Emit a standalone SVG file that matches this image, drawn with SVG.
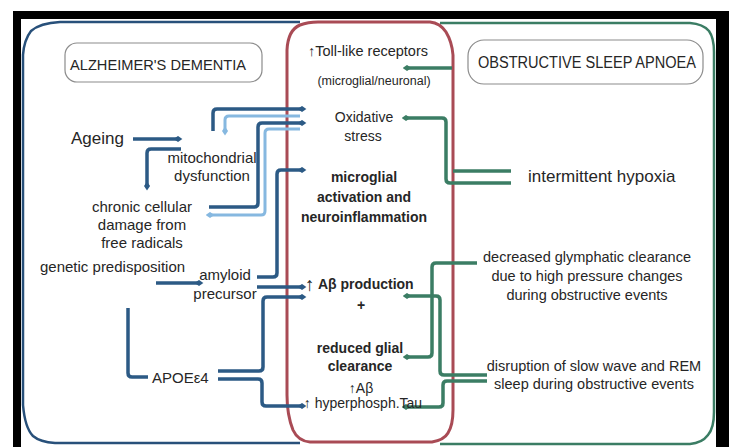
<svg xmlns="http://www.w3.org/2000/svg" width="732" height="447" viewBox="0 0 732 447">
<style>
.t{font-family:"Liberation Sans",Arial,sans-serif;fill:#262626}
.b{font-weight:bold}
.c{text-anchor:middle}
.box{fill:#fff;stroke:#8c8c8c;stroke-width:1.2}
.dk{fill:none;stroke:#2c5a85;stroke-width:3.5}
.lt{fill:none;stroke:#86b8e0;stroke-width:3}
.gr{fill:none;stroke:#3b7d64;stroke-width:3.5}
.pb{fill:none;stroke:#28507a;stroke-width:2.5}
.pg{fill:none;stroke:#3b7d64;stroke-width:2.5}
.pr{fill:none;stroke:#a94b55;stroke-width:3}
</style>
<defs>
<marker id="mDk" viewBox="0 0 10 8" refX="5" refY="4" markerWidth="9" markerHeight="7" markerUnits="userSpaceOnUse" orient="auto"><path d="M0,4 L5,0.5 L10,4 L5,7.5 Z" fill="#2c5a85"/></marker>
<marker id="mLt" viewBox="0 0 10 8" refX="5" refY="4" markerWidth="9" markerHeight="7" markerUnits="userSpaceOnUse" orient="auto"><path d="M0,4 L5,0.5 L10,4 L5,7.5 Z" fill="#86b8e0"/></marker>
<marker id="mGr" viewBox="0 0 10 8" refX="5" refY="4" markerWidth="9" markerHeight="7" markerUnits="userSpaceOnUse" orient="auto"><path d="M0,4 L5,0.5 L10,4 L5,7.5 Z" fill="#3b7d64"/></marker>
</defs>
<rect x="0" y="0" width="732" height="447" fill="#fff"/>
<rect x="13" y="11" width="716" height="440" fill="#000"/>
<rect x="21" y="19" width="695" height="430" fill="#fff"/>

<g id="panels">
<path id="panel-ad" class="pb" d="M300 22 H60 Q40 23 31 31 Q24 40 23 55 V405 Q25 428 33 436 Q40 442 55 443 H300"/>
<path id="panel-osa" class="pg" d="M440 23 H690 Q703 24 709 31 Q714 38 714 52 V412 Q714 428 708 435 Q702 443 690 444 H440"/>
<path id="panel-mid" class="pr" d="M287 50 Q288 30 300 25 Q308 22 318 22 H430 Q440 23 446 32 Q452 42 453 55 V410 Q453 425 448 433 Q444 440 432 442 H310 Q298 441 293 430 Q287 415 287 395 Z"/>
</g>

<g id="connectors">
<path class="dk" d="M133 139 H178" marker-end="url(#mDk)"/>
<path class="dk" d="M181 149 H151 Q147 149 147 153 V186" marker-end="url(#mDk)"/>
<path class="dk" d="M213 131 V113 Q213 109 217 109 H302" marker-end="url(#mDk)"/>
<path class="lt" d="M300 116 H229 Q225 116 225 120 V131" marker-end="url(#mLt)"/>
<path class="dk" d="M209 207 H254 Q258 207 258 203 V127 Q258 123 262 123 H302" marker-end="url(#mDk)"/>
<path class="lt" d="M300 129 H269 Q265 129 265 133 V211 Q265 215 261 215 H210" marker-end="url(#mLt)"/>
<path class="dk" d="M257 277 H273 Q277 277 277 273 V174 Q277 170 281 170 H302" marker-end="url(#mDk)"/>
<path class="dk" d="M156 283 H199" marker-end="url(#mDk)"/>
<path class="dk" d="M257 287 H302" marker-end="url(#mDk)"/>
<path class="dk" d="M218 371 H259 Q263 371 263 367 V301 Q263 297 267 297 H302" marker-end="url(#mDk)"/>
<path class="dk" d="M218 379 H258 Q262 379 262 383 V402 Q262 406 266 406 H302" marker-end="url(#mDk)"/>
<path class="dk" d="M128 308 V373 Q128 377 132 377 H148"/>
<path class="gr" d="M452 68 H407" marker-end="url(#mGr)"/>
<path class="gr" d="M511 183 H450 Q446 183 446 179 V122 Q446 118 442 118 H406" marker-end="url(#mGr)"/>
<path class="gr" d="M511 171 H453"/>
<path class="gr" d="M477 263 H436 Q432 263 432 267 V353 Q432 357 428 357 H407" marker-end="url(#mGr)"/>
<path class="gr" d="M487 375 H444 Q440 375 440 371 V300 Q440 296 436 296 H407" marker-end="url(#mGr)"/>
<path class="gr" d="M487 381 H447 Q443 381 443 385 V403 Q443 407 439 407 H406" marker-end="url(#mGr)"/>
</g>

<g id="alzheimers-dementia">
<rect class="box" x="65" y="43" width="197" height="39" rx="12"/>
<text class="t" x="70" y="70" font-size="15.5" textLength="176" lengthAdjust="spacingAndGlyphs">ALZHEIMER'S DEMENTIA</text>
</g>
<g id="obstructive-sleep-apnoea">
<rect class="box" x="468" y="40" width="235" height="44" rx="16"/>
<text class="t" x="478" y="68" font-size="16" textLength="218" lengthAdjust="spacingAndGlyphs">OBSTRUCTIVE SLEEP APNOEA</text>
</g>

<g id="ageing"><text class="t" x="71" y="144" font-size="17">Ageing</text></g>
<g id="mitochondrial-dysfunction"><text class="t c" font-size="15"><tspan x="212" y="163">mitochondrial</tspan><tspan x="212" y="181">dysfunction</tspan></text></g>
<g id="chronic-cellular-damage"><text class="t c" font-size="15"><tspan x="142" y="212">chronic cellular</tspan><tspan x="142" y="230">damage from</tspan><tspan x="142" y="248">free radicals</tspan></text></g>
<g id="genetic-predisposition"><text class="t" x="40" y="272" font-size="15">genetic predisposition</text></g>
<g id="amyloid-precursor"><text class="t c" font-size="15"><tspan x="225" y="280">amyloid</tspan><tspan x="225" y="299">precursor</tspan></text></g>
<g id="apoe4"><text class="t" x="152" y="383" font-size="15">APOEε4</text></g>

<g id="toll-like-receptors"><text class="t c" font-size="14.5" x="368" y="56">↑Toll-like receptors</text><text class="t c" font-size="12.5" x="374" y="85">(microglial/neuronal)</text></g>
<g id="oxidative-stress"><text class="t c" font-size="14"><tspan x="364" y="122">Oxidative</tspan><tspan x="363" y="141">stress</tspan></text></g>
<g id="microglial-activation"><text class="t b c" font-size="14"><tspan x="364" y="182">microglial</tspan><tspan x="364" y="202">activation and</tspan><tspan x="364" y="222">neuroinflammation</tspan></text></g>
<g id="abeta-production"><text class="t" x="305" y="291" font-size="19">↑</text><text class="t b" x="318" y="289" font-size="14">Aβ production</text><text class="t b c" x="361" y="310" font-size="14">+</text></g>
<g id="reduced-glial-clearance"><text class="t b c" font-size="14"><tspan x="360" y="353">reduced glial</tspan><tspan x="360" y="371">clearance</tspan></text></g>
<g id="abeta-tau"><text class="t c" font-size="14"><tspan x="361" y="393">↑Aβ</tspan><tspan x="363" y="408">↑ hyperphosph.Tau</tspan></text></g>

<g id="intermittent-hypoxia"><text class="t" x="528" y="182" font-size="17">intermittent hypoxia</text></g>
<g id="decreased-glymphatic-clearance"><text class="t c" font-size="14.5"><tspan x="587" y="262">decreased glymphatic clearance</tspan><tspan x="587" y="281">due to high pressure changes</tspan><tspan x="587" y="300">during obstructive events</tspan></text></g>
<g id="disruption-of-sleep"><text class="t c" font-size="14.5"><tspan x="594" y="371">disruption of slow wave and REM</tspan><tspan x="594" y="389">sleep during obstructive events</tspan></text></g>
</svg>
